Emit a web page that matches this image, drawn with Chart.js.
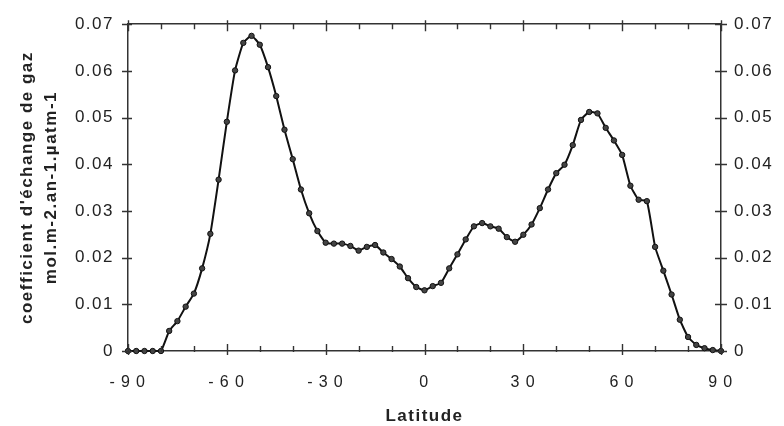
<!DOCTYPE html>
<html>
<head>
<meta charset="utf-8">
<script src="https://cdn.jsdelivr.net/npm/chart.js@4.4.1/dist/chart.umd.min.js"></script>
<style>
  html, body { margin: 0; padding: 0; background: #fff; }
  #wrap { width: 784px; height: 426px; }
</style>
</head>
<body>
<div id="wrap"><canvas id="chartjs-0" width="784" height="426"></canvas></div>
<script>
// latitude of each point (degrees)
var latitudes = [
  -90, -87.5, -85, -82.5, -80, -77.5, -75, -72.5, -70, -67.5,
  -65, -62.5, -60, -57.5, -55, -52.5, -50, -47.5, -45, -42.5,
  -40, -37.5, -35, -32.5, -30, -27.5, -25, -22.5, -20, -17.5,
  -15, -12.5, -10, -7.5, -5, -2.5, 0, 2.5, 5, 7.5,
  10, 12.5, 15, 17.5, 20, 22.5, 25, 27.5, 30, 32.5,
  35, 37.5, 40, 42.5, 45, 47.5, 50, 52.5, 55, 57.5,
  60, 62.5, 65, 67.5, 70, 72.5, 75, 77.5, 80, 82.5,
  85, 87.5, 90
];
// gas exchange coefficient
var coefficients = [
  0, 0, 0, 0, 0, 0.0043, 0.0064, 0.0095, 0.0123, 0.0177,
  0.0251, 0.0367, 0.0491, 0.0601, 0.0660, 0.0675, 0.0656, 0.0608, 0.0546, 0.0474,
  0.0411, 0.0346, 0.0295, 0.0257, 0.0232, 0.0230, 0.0230, 0.0225, 0.0215, 0.0223,
  0.0227, 0.0211, 0.0197, 0.0181, 0.0156, 0.0137, 0.0130, 0.0139, 0.0146, 0.0177,
  0.0207, 0.0239, 0.0267, 0.0274, 0.0267, 0.0262, 0.0244, 0.0234, 0.0249, 0.0271,
  0.0306, 0.0346, 0.0381, 0.0399, 0.0441, 0.0495, 0.0512, 0.0509, 0.0478, 0.0451,
  0.0420, 0.0354, 0.0324, 0.0321, 0.0223, 0.0172, 0.0121, 0.0067, 0.0030, 0.0013,
  0.0006, 0.0002, 0
];
var xTickLabels = { "-90": "-\u20099\u20090", "-60": "-\u20096\u20090", "-30": "-\u20093\u20090", "0": "0", "30": "3\u20090", "60": "6\u20090", "90": "9\u20090" };
var yTitle = ["coefficient d'échange de gaz", "mol.m-2.an-1.µatm-1"];
var xTitle = "Latitude";

var points = [];
for (var i = 0; i < latitudes.length; i++) {
  points.push({ x: latitudes[i], y: coefficients[i] });
}

function yLabel(v) {
  if (Math.abs(v) < 1e-9) return "0";
  return v.toFixed(2);
}

// spaced lettering like the original
var spacing = {
  id: "spacing",
  beforeDraw: function (chart) { chart.ctx.letterSpacing = "1.5px"; },
  afterDraw: function (chart) { chart.ctx.letterSpacing = "0px"; }
};

// tick marks crossing the frame
var tickMarks = {
  id: "tickMarks",
  afterDraw: function (chart) {
    var ctx = chart.ctx;
    var area = chart.chartArea;
    var sx = chart.scales.x, sy = chart.scales.y;
    ctx.save();
    ctx.strokeStyle = "#333";
    ctx.lineWidth = 1.4;
    ctx.beginPath();
    sx.ticks.forEach(function (t) {
      var px = Math.round(sx.getPixelForValue(t.value)) + 0.5;
      var major = Math.round(t.value) % 30 === 0;
      var inn = major ? 7 : 5, out = major ? 4 : 1;
      ctx.moveTo(px, area.bottom + out); ctx.lineTo(px, area.bottom - inn);
      ctx.moveTo(px, area.top - out); ctx.lineTo(px, area.top + inn);
    });
    sy.ticks.forEach(function (t) {
      var py = Math.round(sy.getPixelForValue(t.value)) + 0.5;
      ctx.moveTo(area.left - 6, py); ctx.lineTo(area.left + 4, py);
      ctx.moveTo(area.right - 6, py); ctx.lineTo(area.right + 6, py);
    });
    ctx.stroke();
    ctx.restore();
  }
};

var fam = "'Liberation Sans', Arial, sans-serif";
var labelFont = { family: fam, size: 17 };
var titleFont = { family: fam, size: 17, weight: "bold", lineHeight: 1.38 };

var ctx0 = document.getElementById("chartjs-0");
var myChart = new Chart(ctx0, {
  type: "line",
  data: {
    datasets: [{
      label: "coefficient",
      data: points,
      borderColor: "#111",
      borderWidth: 2,
      backgroundColor: "#333",
      pointRadius: 2.7,
      pointBorderColor: "#111",
      pointBorderWidth: 1,
      pointBackgroundColor: "#444",
      tension: 0.15,
      fill: false,
      clip: false
    }]
  },
  options: {
    responsive: false,
    maintainAspectRatio: false,
    devicePixelRatio: 1,
    animation: false,
    layout: { padding: 0 },
    plugins: { legend: { display: false }, tooltip: { enabled: false } },
    scales: {
      x: {
        type: "linear", position: "bottom", min: -90, max: 90,
        afterFit: function (s) { s.height = 75; },
        grid: { display: false, drawTicks: false },
        border: { display: true, color: "#333", width: 1.5 },
        ticks: {
          stepSize: 10, autoSkip: false, maxRotation: 0, padding: 22,
          color: "#222", font: { family: fam, size: 16 },
          callback: function (v) { var k = String(Math.round(v)); return xTickLabels[k] !== undefined && Math.round(v) % 30 === 0 ? xTickLabels[k] : ""; }
        },
        title: { display: true, text: xTitle, color: "#222", font: { family: fam, size: 17, weight: "bold", lineHeight: 1.15 }, padding: { top: 0, bottom: 0 } }
      },
      x2: {
        type: "linear", position: "top", min: -90, max: 90,
        afterFit: function (s) { s.height = 19; },
        grid: { display: false, drawTicks: false },
        border: { display: true, color: "#333", width: 1.5 },
        ticks: { display: false, stepSize: 10 }
      },
      y: {
        type: "linear", position: "left", min: 0, max: 0.07,
        afterFit: function (s) { s.width = 128; },
        grid: { display: false, drawTicks: false },
        border: { display: true, color: "#333", width: 1.5 },
        ticks: { stepSize: 0.01, padding: 14, color: "#222", font: labelFont, callback: yLabel },
        title: { display: true, text: yTitle, color: "#222", font: titleFont, padding: { top: 16, bottom: 0 } }
      },
      y2: {
        type: "linear", position: "right", min: 0, max: 0.07,
        afterFit: function (s) { s.width = 63; },
        grid: { display: false, drawTicks: false },
        border: { display: true, color: "#333", width: 1.5 },
        ticks: { stepSize: 0.01, padding: 13, color: "#222", font: labelFont, callback: yLabel }
      }
    }
  },
  plugins: [spacing, tickMarks]
});
</script>
</body>
</html>
